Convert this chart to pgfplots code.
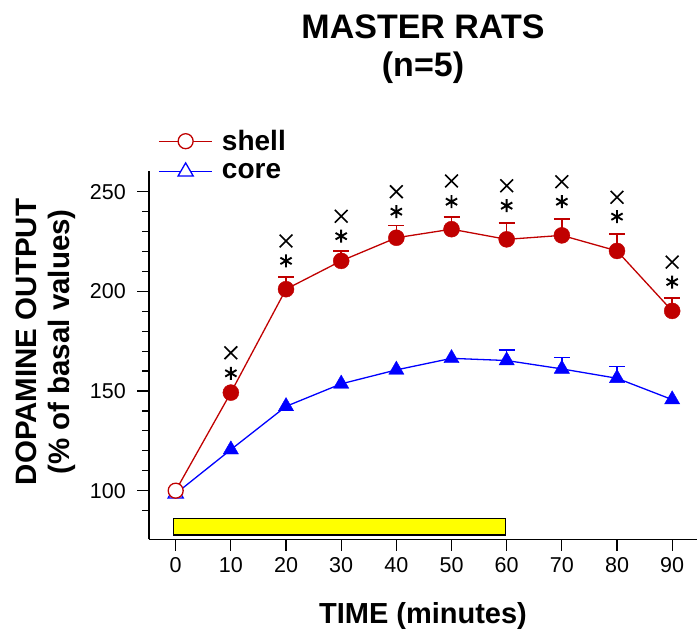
\documentclass[border=0pt]{standalone}
\usepackage{fontspec}
\setmainfont{Liberation Sans}
\usepackage{pgfplots}
\pgfplotsset{compat=1.18}
\definecolor{shellred}{RGB}{192,0,0}
\definecolor{coreblue}{RGB}{0,0,255}
\definecolor{baryellow}{RGB}{255,255,0}
\begin{document}
\begin{tikzpicture}[x=1pt,y=1pt]
\begin{axis}[
  at={(0pt,0pt)}, anchor=south west,
  scale only axis, width=548pt, height=368.5pt,
  xmin=-4.84, xmax=94.5, ymin=75.6, ymax=260.5,
  axis x line*=bottom, axis y line*=left,
  axis line style={-, line width=1.2pt, black},
  xtick={0,10,...,90}, ytick={100,150,200,250},
  minor ytick={90,110,120,130,140,160,170,180,190,210,220,230,240},
  tick align=outside, major tick length=11.5pt, minor tick length=6.5pt,
  every tick/.style={line width=1.2pt, black},
  clip=false,
  /pgf/number format/assume math mode=true,
  ticklabel style={font=\fontsize{21.5}{25}\selectfont, inner sep=0pt},
  xticklabel shift=6.7pt, yticklabel shift=11.5pt,
  legend style={at={(axis description cs:0.01697,1.1099)}, anchor=north west,
    draw=none, fill=none, inner sep=0pt, outer sep=0pt,
    font=\bfseries\fontsize{28}{30}\selectfont,
    row sep=10.8pt, column sep=9pt,
    nodes={inner sep=0pt}},
  legend cell align=left,
  legend image code/.code={\draw[mark repeat=2,mark phase=2,#1] plot coordinates {(0pt,0pt)(26.7pt,0pt)(53.4pt,0pt)};},
  error bars/error bar style={line width=1.6pt},
]
\addlegendimage{shellred, line width=1.3pt, mark=*, mark size=7.5pt, mark options={fill=white, line width=1.3pt}}
\addlegendentry{shell}
\addlegendimage{coreblue, line width=1.3pt, mark=triangle*, mark size=8.8pt, mark options={fill=white, line width=1.3pt}}
\addlegendentry{core}

% stimulus bar
\addplot[fill=baryellow, draw=black, line width=1.2pt, forget plot] coordinates {(-0.43,77.8) (59.8,77.8) (59.8,86.2) (-0.43,86.2)} -- cycle;

% core
\addplot[coreblue, line width=1.3pt, mark=none, forget plot] coordinates {(0,98.5)(10,120.6)(20,142.3)(30,153.6)(40,160.6)(50,166.4)(60,165.3)(70,161.1)(80,156.4)(90,145.7)};
\addplot[coreblue, only marks, mark=triangle*, mark size=8.8pt, forget plot] coordinates {(10,120.6)(20,142.3)(30,153.6)(40,160.6)(50,166.4)(90,145.7)};
\addplot[coreblue, only marks, mark=triangle*, mark size=8.8pt, forget plot,
  error bars/.cd, y dir=plus, y explicit, error mark=-, error mark options={rotate=90, mark size=8pt, line width=1.6pt, coreblue}]
  coordinates {(60,165.3) +- (0,5.3) (70,161.1) +- (0,5.8) (80,156.4) +- (0,6.0)};
\addplot[coreblue, only marks, mark=triangle*, mark size=8.8pt, mark options={fill=white, line width=1.3pt}, forget plot] coordinates {(0,98.5)};

% shell
\addplot[shellred, line width=1.3pt, mark=none, forget plot] coordinates {(0,100)(10,149.2)(20,201.1)(30,215.3)(40,226.9)(50,231.2)(60,226.1)(70,228.1)(80,220.3)(90,190.2)};
\addplot[shellred, only marks, mark=*, mark size=8pt, forget plot] coordinates {(10,149.2)};
\addplot[shellred, only marks, mark=*, mark size=8pt, forget plot,
  error bars/.cd, y dir=plus, y explicit, error mark=-, error mark options={rotate=90, mark size=8pt, line width=1.6pt, shellred}]
  coordinates {(20,201.1) +- (0,6.0) (30,215.3) +- (0,5.1) (40,226.9) +- (0,6.1) (50,231.2) +- (0,6.1) (60,226.1) +- (0,8.2) (70,228.1) +- (0,8.2) (80,220.3) +- (0,8.5) (90,190.2) +- (0,6.6)};
\addplot[shellred, only marks, mark=*, mark size=7.5pt, mark options={fill=white, line width=1.3pt}, forget plot] coordinates {(0,100)};

% significance marks
\addplot[black, only marks, mark=x, mark size=9pt, mark options={line width=1.6pt}, forget plot] coordinates {(10,169.2)(20,225.3)(30,237.7)(40,250.0)(50,255.4)(60,253.0)(70,255.0)(80,247.2)(90,214.7)};
\addplot[black, only marks, mark=asterisk, mark size=6.5pt, mark options={line width=1.9pt}, forget plot] coordinates {(10,158.9)(20,215.3)(30,227.7)(40,240.0)(50,245.0)(60,243.0)(70,245.0)(80,237.5)(90,204.7)};
\end{axis}
\node[anchor=base, font=\bfseries\fontsize{34}{36}\selectfont] at (274,501) {MASTER RATS};
\node[anchor=base, font=\bfseries\fontsize{34}{36}\selectfont] at (274,462.6) {(n=5)};
\node[anchor=base, font=\bfseries\fontsize{29}{31}\selectfont] at (274,-84) {TIME (minutes)};
\node[rotate=90, anchor=base, font=\bfseries\fontsize{29.5}{31}\selectfont] at (-112.3,197.3) {DOPAMINE OUTPUT};
\node[rotate=90, anchor=base, font=\bfseries\fontsize{29.5}{31}\selectfont] at (-79,197.3) {(\% of basal values)};
\pgfresetboundingbox
\path[use as bounding box] (-149,-93.7) rectangle (548,539.3);
\end{tikzpicture}
\end{document}
